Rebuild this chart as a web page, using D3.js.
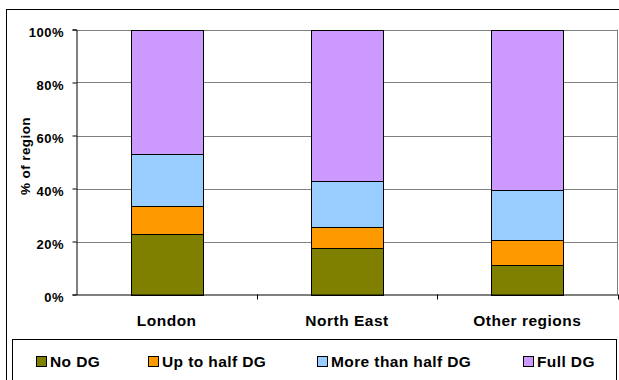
<!DOCTYPE html>
<html>
<head>
<meta charset="utf-8">
<script src="https://cdn.jsdelivr.net/npm/d3@7/dist/d3.min.js"></script>
<style>
  html, body { margin: 0; padding: 0; background: #fff; }
  svg { display: block; font-family: "Liberation Sans", Arial, sans-serif; }
</style>
</head>
<body>
<svg id="chart" width="619" height="380"></svg>
<script>
// Regions and share of households (%) by double-glazing level
const regions = ["London", "North East", "Other regions"];
const seriesNames = ["No DG", "Up to half DG", "More than half DG", "Full DG"];
const noDG = [22.9, 17.7, 11.3];
const upToHalfDG = [10.6, 7.8, 9.1];
const moreThanHalfDG = [19.7, 17.3, 19.2];
const fullDG = [46.8, 57.2, 60.4];
const yTicks = [0, 20, 40, 60, 80, 100];
const colors = ["#808000", "#FF9900", "#99CCFF", "#CC99FF"];

const svg = d3.select("#chart");
const plot = { left: 76.5, right: 617.5, top: 29.5, bottom: 294.5 };

// Outer chart frame
svg.append("rect")
  .attr("x", 6.5).attr("y", 9.5).attr("width", 640).attr("height", 400)
  .attr("fill", "#fff").attr("stroke", "#000").attr("stroke-width", 1);

const x = d3.scaleBand().domain(regions).range([plot.left, plot.right]).paddingInner(0.6).paddingOuter(0.3);
const xOuter = d3.scaleBand().domain(regions).range([plot.left, plot.right]);
const y = d3.scaleLinear().domain([0, 100]).range([plot.bottom, plot.top]);

// Gridlines
svg.append("g")
  .selectAll("line").data(yTicks.filter(t => t > 0)).join("line")
  .attr("x1", plot.left).attr("x2", plot.right)
  .attr("y1", d => Math.round(y(d)) + 0.5).attr("y2", d => Math.round(y(d)) + 0.5)
  .attr("stroke", "#808080").attr("stroke-width", 1);

// Right edge of plot area
svg.append("line")
  .attr("x1", plot.right).attr("x2", plot.right)
  .attr("y1", plot.top).attr("y2", plot.bottom)
  .attr("stroke", "#808080");

// Stacked bars
const table = regions.map((r, i) => ({
  region: r,
  "No DG": noDG[i],
  "Up to half DG": upToHalfDG[i],
  "More than half DG": moreThanHalfDG[i],
  "Full DG": fullDG[i]
}));
const stacked = d3.stack().keys(seriesNames)(table);

svg.append("g").selectAll("g").data(stacked).join("g")
  .attr("fill", (d, i) => colors[i])
  .selectAll("rect").data(d => d).join("rect")
  .attr("x", d => Math.round(x(d.data.region)) + 0.5)
  .attr("width", Math.round(x.bandwidth()))
  .attr("y", d => Math.round(y(d[1])) + 0.5)
  .attr("height", d => Math.round(y(d[0])) - Math.round(y(d[1])))
  .attr("stroke", "#000").attr("stroke-width", 1);

// Y axis
const yAxis = d3.axisLeft(y).tickValues(yTicks).tickSize(4).tickFormat(d => d + "%");
const yg = svg.append("g").attr("transform", `translate(${plot.left},0)`).call(yAxis);
yg.select(".domain").attr("stroke", "#000");
yg.selectAll(".tick line").attr("stroke", "#000");
yg.selectAll(".tick text")
  .attr("x", -12.5).attr("dy", 0).attr("y", 6.5)
  .attr("font-family", "Liberation Sans, Arial, sans-serif")
  .attr("font-size", 13).attr("letter-spacing", 0.5)
  .attr("font-weight", "bold").attr("fill", "#000");

// X axis
const xAxis = d3.axisBottom(xOuter).tickSize(0).tickSizeOuter(0);
const xg = svg.append("g").attr("transform", `translate(0,${plot.bottom})`).call(xAxis);
xg.select(".domain").attr("stroke", "#000");
xg.selectAll(".tick text")
  .attr("dy", 0).attr("y", 31.5)
  .attr("font-family", "Liberation Sans, Arial, sans-serif")
  .attr("font-size", 15.5).attr("letter-spacing", 0.5)
  .attr("font-weight", "bold").attr("fill", "#000");
// Category separator ticks
svg.append("g").selectAll("line").data(regions).join("line")
  .attr("x1", d => Math.round(xOuter(d) + xOuter.bandwidth()) + 0.5)
  .attr("x2", d => Math.round(xOuter(d) + xOuter.bandwidth()) + 0.5)
  .attr("y1", plot.bottom).attr("y2", plot.bottom + 5)
  .attr("stroke", "#000");

// Y axis title
svg.append("text")
  .attr("transform", `translate(30,156) rotate(-90)`)
  .attr("text-anchor", "middle")
  .attr("font-size", 13.5).attr("letter-spacing", 0.4)
  .attr("font-weight", "bold")
  .text("% of region");

// Legend
svg.append("rect")
  .attr("x", 12.5).attr("y", 339.5).attr("width", 604).attr("height", 60)
  .attr("fill", "#fff").attr("stroke", "#000").attr("stroke-width", 1);
const legendX = [36, 148, 317, 523];
const lg = svg.append("g").selectAll("g").data(seriesNames).join("g")
  .attr("transform", (d, i) => `translate(${legendX[i]},356)`);
lg.append("rect")
  .attr("x", 0.5).attr("y", 0.5).attr("width", 10).attr("height", 10)
  .attr("fill", (d, i) => colors[i]).attr("stroke", "#000");
lg.append("text")
  .attr("x", 14).attr("y", 11)
  .attr("font-size", 15.5).attr("letter-spacing", 0.4)
  .attr("font-weight", "bold")
  .text(d => d);
</script>
</body>
</html>
